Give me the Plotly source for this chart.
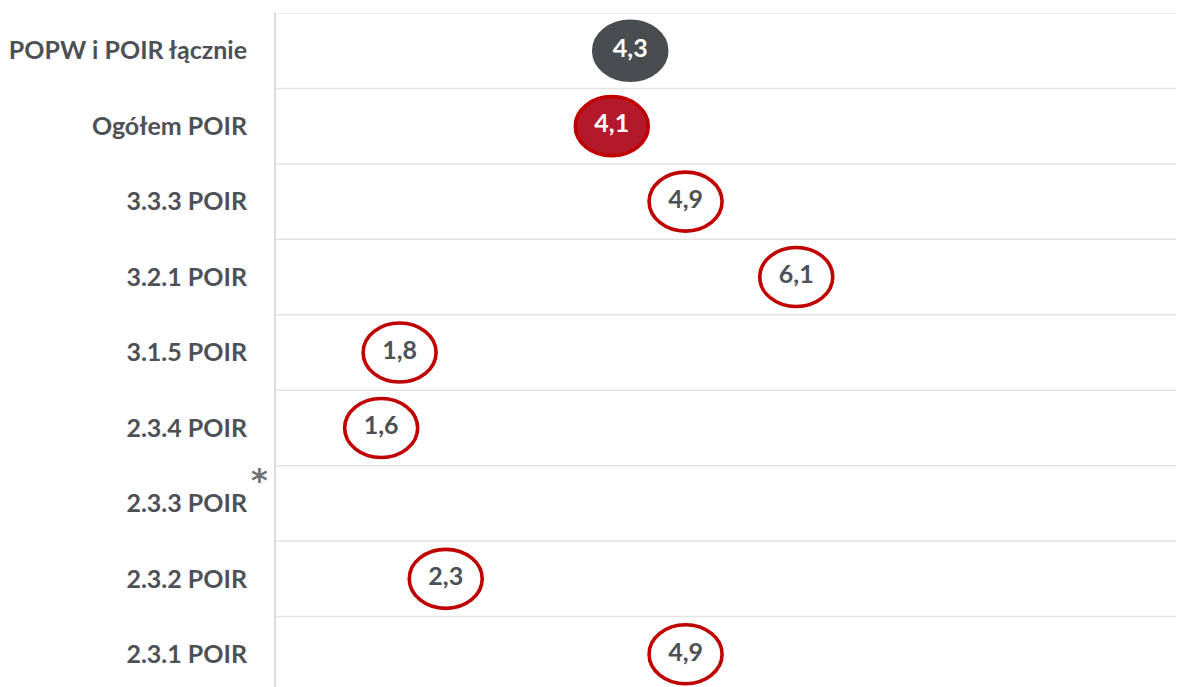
import plotly.graph_objects as go

categories = ["POPW i POIR łącznie", "Ogółem POIR", "3.3.3 POIR", "3.2.1 POIR",
              "3.1.5 POIR", "2.3.4 POIR", "2.3.3 POIR", "2.3.2 POIR", "2.3.1 POIR"]
values = [4.3, 4.1, 4.9, 6.1, 1.8, 1.6, None, 2.3, 4.9]
value_labels = ["4,3", "4,1", "4,9", "6,1", "1,8", "1,6", "", "2,3", "4,9"]
fill_colors = ["#4a4d50", "#b3192b", "white", "white", "white", "white", "white", "white", "white"]
line_colors = ["#4a4d50", "#c00000", "#c00000", "#c00000", "#c00000", "#c00000", "#c00000", "#c00000", "#c00000"]
text_colors = ["white", "white", "#4d5156", "#4d5156", "#4d5156", "#4d5156", "#4d5156", "#4d5156", "#4d5156"]

n = len(categories)
ypos = [n - 1 - i for i in range(n)]

fig = go.Figure()
shapes = []
for k in range(n):
    shapes.append(dict(type="line", xref="paper", yref="y", x0=0, x1=1, y0=k + 0.5, y1=k + 0.5,
                       line=dict(color="#e3e3e3", width=1.5), layer="below"))
for i, v in enumerate(values):
    if v is None:
        continue
    shapes.append(dict(type="circle", xref="x", yref="y", xsizemode="pixel", ysizemode="pixel",
                       xanchor=v, yanchor=ypos[i], x0=-36.5, x1=36.5, y0=-29.5, y1=29.5,
                       fillcolor=fill_colors[i], line=dict(color=line_colors[i], width=3.6), layer="below"))

xs = [v for v in values if v is not None]
ys = [ypos[i] for i, v in enumerate(values) if v is not None]
ts = [value_labels[i] for i, v in enumerate(values) if v is not None]
tc = [text_colors[i] for i, v in enumerate(values) if v is not None]
fig.add_trace(go.Scatter(x=xs, y=ys, mode="text", text=ts,
                         textfont=dict(family="Lato", size=25, color=tc, weight="bold"),
                         hoverinfo="skip", showlegend=False))

fig.update_layout(
    width=1184, height=687,
    margin=dict(l=268, r=0, t=5, b=3),
    paper_bgcolor="white", plot_bgcolor="white",
    shapes=shapes,
    xaxis=dict(range=[0.46, 10.39], visible=False, showgrid=False, zeroline=False),
    yaxis=dict(range=[-0.5, 8.5], tickvals=ypos, ticktext=categories, showgrid=False,
               zeroline=False, showline=True, linecolor="#dcdcdc", linewidth=2,
               ticklabelstandoff=22,
               tickfont=dict(family="Lato", size=25, color="#4d5156", weight="bold")),
    annotations=[dict(xref="paper", yref="y", x=0, y=ypos[6] + 0.3, xanchor="center", yanchor="middle",
                      xshift=-17, yshift=1, text="*", showarrow=False,
                      font=dict(family="DejaVu Sans", size=32, color="#6d7277", weight="bold"))],
)
fig.write_html("out.html")
